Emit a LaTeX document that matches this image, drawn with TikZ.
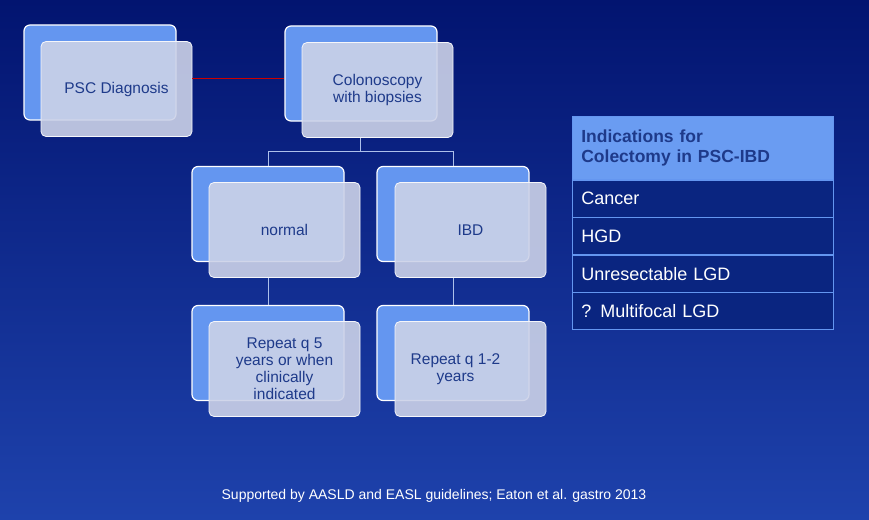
\documentclass[tikz,border=0pt]{standalone}
\usepackage{fontspec}
\setmainfont{Liberation Sans}
\usetikzlibrary{positioning, calc}
\definecolor{navy}{HTML}{021470}
\definecolor{deepblue}{HTML}{1E42AC}
\definecolor{backblue}{HTML}{6496F0}
\definecolor{frontgray}{HTML}{CCD2E8}
\definecolor{textblue}{HTML}{1E3A8A}
\definecolor{headblue}{HTML}{6A9CF2}
\definecolor{rowblue}{HTML}{0A2580}

\begin{document}
\begin{tikzpicture}[
    x=1pt, y=-1pt,
    backbox/.style={rectangle, draw=white, line width=1.2pt, rounded corners=6pt, fill=backblue, minimum width=152pt, minimum height=95pt, inner sep=0pt},
    frontbox/.style={rectangle, draw=white!80!frontgray, line width=0.8pt, rounded corners=5pt, fill=frontgray, fill opacity=0.9, text opacity=1, minimum width=151pt, minimum height=95pt, inner sep=0pt, align=center, font=\fontsize{15.5}{17}\selectfont, text=textblue},
    link/.style={draw=frontgray!70!backblue, line width=0.8pt},
    cell/.style={rectangle, draw=backblue, line width=0.6pt, fill=rowblue, minimum width=261pt, minimum height=37pt, anchor=north west, inner xsep=9pt, text width=243pt, align=left, text=white, font=\fontsize{18}{20}\selectfont}
]
    \shade[top color=navy, bottom color=deepblue] (0,0) rectangle (869,519);
    \useasboundingbox (0,0) rectangle (869,519);

    % back boxes
    \node[backbox] (pscb) at (100,72.5) {};
    \node[backbox] (colb) at (361,73.5) {};
    \node[backbox] (normb) at (268,214) {};
    \node[backbox] (ibdb) at (453,214) {};
    \node[backbox] (rep5b) at (268,353) {};
    \node[backbox] (rep1b) at (453,353) {};

    % front boxes
    \node[frontbox] (psc) at (116.5,89) {PSC Diagnosis};
    \node[frontbox] (col) at (377.5,90) {Colonoscopy\\with biopsies};
    \node[frontbox] (norm) at (284.5,230) {normal};
    \node[frontbox] (ibd) at (470.5,230) {IBD};
    \node[frontbox] (rep5) at (284.5,369) {Repeat q 5\\years or when\\clinically\\indicated};
    \node[frontbox] (rep1) at (470.5,369) {\hspace*{-30pt}Repeat q 1-2\\\hspace*{-30pt}years};

    % connectors
    \draw[draw=red!80!black, line width=0.8pt] (psc.east |- 0,78) -- (colb.west |- 0,78);
    \draw[link] (col.south -| colb.east) ++(-77,0) coordinate (split) -- ++(0,13) coordinate (bar);
    \draw[link] (normb.north) |- (bar) -| (ibdb.north);
    \draw[link] (normb.north |- norm.south) -- (rep5b.north);
    \draw[link] (ibdb.north |- ibd.south) -- (rep1b.north);

    % table
    \node[cell, fill=headblue, minimum height=63pt, text=textblue, font=\fontsize{17.5}{20}\selectfont\bfseries] (head) at (572,116) {Indications for\\Colectomy in PSC-IBD};
    \node[cell, below=0pt of head.south west, anchor=north west] (r1) {Cancer};
    \node[cell, below=0pt of r1.south west, anchor=north west] (r2) {HGD};
    \node[cell, below=0pt of r2.south west, anchor=north west] (r3) {Unresectable LGD};
    \node[cell, below=0pt of r3.south west, anchor=north west] (r4) {? Multifocal LGD};

    \node[text=white, font=\fontsize{14}{16}\selectfont] (foot) at (434,496) {Supported by AASLD and EASL guidelines; Eaton et al. gastro 2013};
\end{tikzpicture}
\end{document}
